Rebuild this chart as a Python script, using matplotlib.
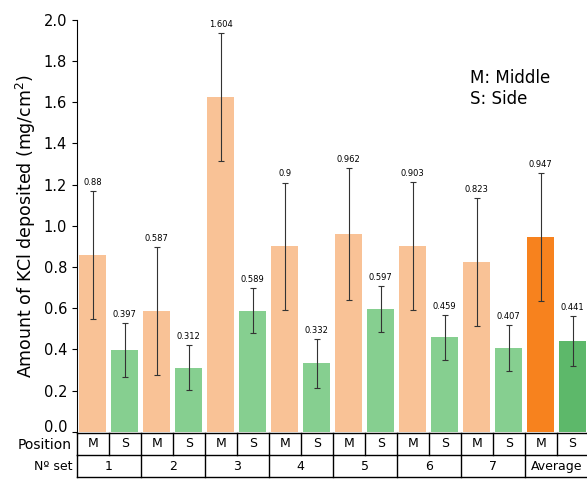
import matplotlib.pyplot as plt
import matplotlib.transforms as mtransforms
import numpy as np

# data
sets = ["1", "2", "3", "4", "5", "6", "7", "Average"]
middle = [0.86, 0.587, 1.624, 0.90, 0.962, 0.903, 0.823, 0.947]
side = [0.397, 0.312, 0.589, 0.332, 0.597, 0.459, 0.407, 0.441]
middle_err = [0.31, 0.31, 0.31, 0.31, 0.32, 0.31, 0.31, 0.31]
side_err = [0.13, 0.11, 0.11, 0.12, 0.11, 0.11, 0.11, 0.12]
middle_labels = ["0.88", "0.587", "1.604", "0.9", "0.962", "0.903", "0.823", "0.947"]
side_labels = ["0.397", "0.312", "0.589", "0.332", "0.597", "0.459", "0.407", "0.441"]

m_color = "#f9c296"
s_color = "#86cf90"
m_avg_color = "#f7821e"
s_avg_color = "#5db86a"

fig = plt.figure(figsize=(5.87, 4.82), dpi=100)
ax = fig.add_axes([0.131, 0.104, 0.869, 0.855])

n = len(sets)
xm = np.arange(n) * 2
xs = xm + 1
mcols = [m_color] * (n - 1) + [m_avg_color]
scols = [s_color] * (n - 1) + [s_avg_color]

ax.bar(xm, middle, width=0.85, color=mcols, zorder=1)
ax.bar(xs, side, width=0.85, color=scols, zorder=1)
ax.errorbar(xm, middle, yerr=middle_err, fmt="none", ecolor="#333333",
            elinewidth=0.8, capsize=2, capthick=0.8, zorder=2)
ax.errorbar(xs, side, yerr=side_err, fmt="none", ecolor="#333333",
            elinewidth=0.8, capsize=2, capthick=0.8, zorder=2)

for x, v, e, t in zip(xm, middle, middle_err, middle_labels):
    ax.text(x, v + e + 0.02, t, ha="center", va="bottom", fontsize=6)
for x, v, e, t in zip(xs, side, side_err, side_labels):
    ax.text(x, v + e + 0.02, t, ha="center", va="bottom", fontsize=6)

ax.set_xlim(-0.5, 2 * n - 0.55)
ax.set_ylim(0, 2.0)
ticks = np.arange(0, 2.01, 0.2)
ax.set_yticks(ticks)
ax.set_yticklabels([f"{v:.1f}" for v in ticks], fontsize=10.5)
# nudge the 0.0 label up so it clears the table row label
lab0 = ax.get_yticklabels()[0]
lab0.set_transform(lab0.get_transform() +
                   mtransforms.ScaledTranslation(0, 4 / 72, fig.dpi_scale_trans))
ax.set_xticks([])
ax.spines["top"].set_visible(False)
ax.spines["right"].set_visible(False)
ax.spines["bottom"].set_visible(False)
ax.set_ylabel("Amount of KCl deposited (mg/cm$^2$)", fontsize=12.5)

ax.text(0.77, 0.88, "M: Middle\nS: Side", transform=ax.transAxes,
        fontsize=12, va="top", ha="left", linespacing=1.2)

# table under the bars
tab = fig.add_axes([0.131, 0.010, 0.869, 0.092])
tab.set_xlim(ax.get_xlim()[0], ax.get_xlim()[1])
tab.set_ylim(0, 2)
tab.axis("off")
x0 = -0.5
x1 = 2 * n - 0.5
for y in [0, 1, 2]:
    tab.plot([x0, x1], [y, y], color="black", lw=1, clip_on=False)
for i in range(2 * n + 1):
    tab.plot([x0 + i, x0 + i], [1, 2], color="black", lw=1, clip_on=False)
for i in range(n + 1):
    tab.plot([x0 + 2 * i, x0 + 2 * i], [0, 1], color="black", lw=1, clip_on=False)
for i in range(n):
    tab.text(xm[i], 1.5, "M", ha="center", va="center", fontsize=9)
    tab.text(xs[i], 1.5, "S", ha="center", va="center", fontsize=9)
    tab.text(xm[i] + 0.5, 0.5, sets[i], ha="center", va="center", fontsize=9)
tab.text(x0 - 0.15, 1.45, "Position", ha="right", va="center", fontsize=10)
tab.text(x0 - 0.15, 0.5, "Nº set", ha="right", va="center", fontsize=9)

fig.savefig("out.png", dpi=100)
